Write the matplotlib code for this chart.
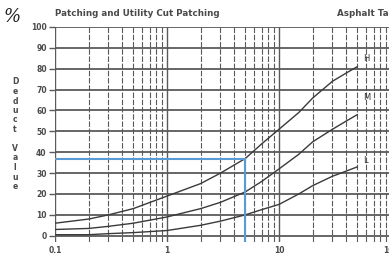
import matplotlib.pyplot as plt
from matplotlib.ticker import FixedLocator, NullFormatter

# Значения
density = [0.1, 0.2, 0.3, 0.5, 1, 2, 3, 5, 7, 10, 15, 20, 30, 40, 50]
deduct_h = [6, 8, 10, 13, 19, 25, 30, 37, 44, 51, 59, 66, 74, 78, 81]
deduct_m = [3, 3.5, 4.5, 6, 9, 13, 16, 21, 26, 32, 39, 45, 51, 55, 58]
deduct_l = [0.5, 0.5, 1, 1.5, 2.5, 5, 7, 10, 12.5, 15, 20, 24, 28.5, 31, 33]
severity = ['H', 'M', 'L']
label_pos = [(56, 85), (56, 66), (56, 36)]

# Пример отсчёта (синие линии)
example_density = 5
example_deduct = 37

y_ticks = list(range(0, 101, 10))
x_ticks = [0.1, 1, 10, 100]
x_tick_labels = ['0.1', '1', '10', '100']

fig = plt.figure(figsize=(3.89, 2.58), dpi=100)
ax = fig.add_axes([55 / 389, 16 / 258, 336 / 389, 215 / 258])

grid_col = '#5a5a5a'
text_col = '#4a4a4a'

# Горизонтальная сетка
for y in y_ticks:
    ax.axhline(y, color=grid_col, lw=1.3, zorder=1)

# Вертикальная сетка (логарифмическая)
minor = [m * 10 ** e for e in (-1, 0, 1) for m in range(2, 10)]
for x in minor:
    ax.axvline(x, color=grid_col, lw=0.8, ls=(0, (5, 1.5)), zorder=1)
for x in [0.1, 1, 10]:
    ax.axvline(x, color=grid_col, lw=1.0, zorder=1)

# Кривые
curve_col = '#3a3a3a'
for vals in (deduct_h, deduct_m, deduct_l):
    ax.plot(density, vals, color=curve_col, lw=1.0, zorder=3)
for s, (px, py) in zip(severity, label_pos):
    ax.text(px, py, s, fontsize=6, color=curve_col, ha='left', va='center')

# Синие линии примера
blue = '#5b9bd5'
ax.plot([0.1, example_density], [example_deduct, example_deduct], color=blue, lw=1.5, zorder=4)
ax.plot([example_density, example_density], [example_deduct, -3], color=blue, lw=1.5, zorder=4)

ax.set_xscale('log')
ax.set_xlim(0.1, 100)
ax.set_ylim(-3, 100)
ax.xaxis.set_major_locator(FixedLocator(x_ticks))
ax.set_xticklabels(x_tick_labels)
ax.xaxis.set_minor_formatter(NullFormatter())
ax.tick_params(axis='x', which='both', length=0, labelsize=5.5, labelcolor=text_col, pad=3)
ax.set_yticks(y_ticks)
ax.tick_params(axis='y', length=4, width=1, color=grid_col, labelsize=5.5, labelcolor=text_col, pad=2)
for sp in ax.spines.values():
    sp.set_visible(False)

for lab in ax.get_xticklabels() + ax.get_yticklabels():
    lab.set_fontweight('bold')

fig.text(55 / 389, 1 - 13 / 258, 'Patching and Utility Cut Patching', fontsize=6.3,
         fontweight='bold', color=text_col, ha='left', va='center')
fig.text(337 / 389, 1 - 13 / 258, 'Asphalt Tables', fontsize=6.3,
         fontweight='bold', color=text_col, ha='left', va='center')
fig.text(4 / 389, 1 - 17 / 258, '%', fontsize=13, style='italic', family='serif',
         color='#222222', ha='left', va='center')

# Подпись оси Y — буквы столбиком
letters = 'Deduct Value'
y0 = 82
for i, ch in enumerate(letters):
    if ch != ' ':
        fig.text(15 / 389, 1 - (y0 + i * 9.5) / 258, ch, fontsize=5.5, fontweight='bold',
                 color=text_col, ha='center', va='center')

fig.savefig('out.png', dpi=100)
